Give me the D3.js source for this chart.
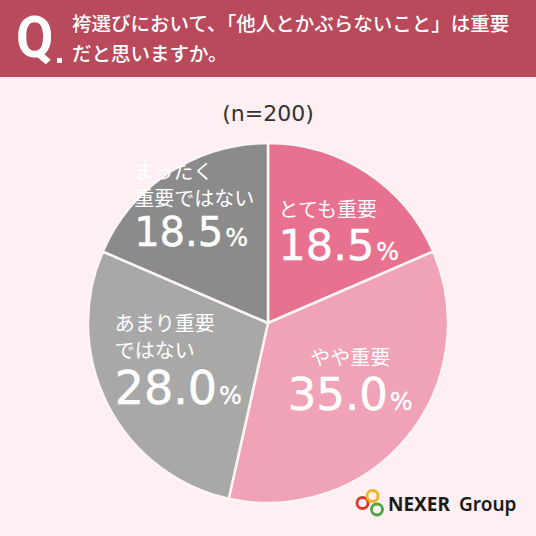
<!DOCTYPE html>
<html>
<head>
<meta charset="utf-8">
<script src="https://cdn.jsdelivr.net/npm/d3@7"></script>
<style>
  html, body { margin: 0; padding: 0; background: #fdeff2; }
  svg { display: block; }
</style>
</head>
<body>
<div id="chart"></div>
<script>
// data
const categories = ["とても重要", "やや重要", "あまり重要ではない", "まったく重要ではない"];
const labelLines = [["とても重要"], ["やや重要"], ["あまり重要", "ではない"], ["まったく", "重要ではない"]];
const values = [18.5, 35.0, 28.0, 18.5];
const colors = ["#e8718f", "#f0a2b6", "#a8a8a8", "#8b8b8b"];
const titleLines = ["袴選びにおいて、「他人とかぶらないこと」は重要", "だと思いますか。"];
const sampleNote = "(n=200)";

// label layout: distance from centre, nudge, alignment, number size
const labelRadius = [118, 104, 94, 140];
const labelShift = [[6, 8], [2, -8], [-6, -4], [3, 0]];
const labelAlign = ["start", "middle", "start", "start"];
const numberSize = [43, 45, 46, 40];

const W = 536, H = 536;
const cx = 268, cy = 323, R = 180;

const svg = d3.select("#chart").append("svg")
    .attr("width", W)
    .attr("height", H);

svg.append("rect")
    .attr("width", W).attr("height", H)
    .attr("fill", "#fdeff2");

// header band
svg.append("rect")
    .attr("width", W).attr("height", 77)
    .attr("fill", "#b84a5b");

svg.append("text")
    .attr("transform", "translate(16,57) scale(0.95,1)")
    .attr("fill", "#fff")
    .style("font-family", "Roboto, sans-serif")
    .style("font-weight", 700)
    .style("font-size", "57px")
    .text("Q");

svg.append("rect")
    .attr("x", 57).attr("y", 58)
    .attr("width", 5).attr("height", 5)
    .attr("fill", "#fff");

svg.selectAll(".title")
    .data(titleLines)
    .enter()
    .append("text")
    .attr("class", "title")
    .attr("x", 72)
    .attr("y", (d, i) => 31 + i * 30)
    .attr("fill", "#fff")
    .style("font-family", "'Noto Sans CJK JP', sans-serif")
    .style("font-weight", 500)
    .style("font-size", "19.5px")
    .text(d => d);

svg.append("text")
    .attr("x", cx).attr("y", 121)
    .attr("text-anchor", "middle")
    .attr("fill", "#333")
    .style("font-family", "'DejaVu Sans', sans-serif")
    .style("font-size", "22px")
    .text(sampleNote);

// pie
const pie = d3.pie().sort(null).value(d => d);
const arcs = pie(values);
const arc = d3.arc().innerRadius(0).outerRadius(R);

const g = svg.append("g").attr("transform", `translate(${cx},${cy})`);

g.selectAll("path")
    .data(arcs)
    .enter()
    .append("path")
    .attr("d", arc)
    .attr("fill", (d, i) => colors[i])
    .attr("stroke", "#fdf4f6")
    .attr("stroke-width", 2.5);

// labels: one text per slice, lines as tspans
arcs.forEach((a, i) => {
    const mid = (a.startAngle + a.endAngle) / 2;
    const tx = Math.sin(mid) * labelRadius[i] + labelShift[i][0];
    const ty = -Math.cos(mid) * labelRadius[i] + labelShift[i][1];

    const lines = labelLines[i];
    const t = g.append("text")
        .attr("text-anchor", labelAlign[i])
        .attr("fill", "#fff");

    lines.forEach((line, j) => {
        t.append("tspan")
            .attr("x", 0)
            .attr("y", j * 27)
            .style("font-family", "'Noto Sans CJK JP', sans-serif")
            .style("font-size", "20px")
            .text(line);
    });

    const numY = (lines.length - 1) * 27 + numberSize[i] * 0.95 + 2;
    t.append("tspan")
        .attr("x", 0)
        .attr("y", numY)
        .attr("stroke", "#fff")
        .attr("stroke-width", 0.5)
        .style("font-family", "'DejaVu Sans', sans-serif")
        .style("font-size", numberSize[i] + "px")
        .text(values[i].toFixed(1));
    t.append("tspan")
        .attr("dx", 2)
        .attr("stroke", "#fff")
        .attr("stroke-width", 0.4)
        .style("font-family", "'DejaVu Sans', sans-serif")
        .style("font-size", "24px")
        .text("%");

    const bb = t.node().getBBox();
    const ox = tx - (bb.x + bb.width / 2);
    const oy = ty - (bb.y + bb.height / 2);
    t.attr("transform", `translate(${ox},${oy})`);
});

// logo
const logo = svg.append("g");
const rings = [
    {x: 362.5, y: 503, c: "#d8392f"},
    {x: 372.5, y: 496, c: "#f0b323"},
    {x: 377, y: 509.5, c: "#49a842"}
];
logo.selectAll("circle")
    .data(rings)
    .enter()
    .append("circle")
    .attr("cx", d => d.x).attr("cy", d => d.y)
    .attr("r", 5.5)
    .attr("fill", "none")
    .attr("stroke", d => d.c)
    .attr("stroke-width", 2.8);

logo.append("text")
    .attr("x", 388).attr("y", 511)
    .attr("fill", "#1a1a1a")
    .style("font-family", "'Noto Sans', sans-serif")
    .style("font-weight", 700)
    .style("font-size", "19px")
    .text("NEXER");

logo.append("text")
    .attr("x", 459).attr("y", 511)
    .attr("fill", "#1a1a1a")
    .style("font-family", "'Noto Sans', sans-serif")
    .style("font-weight", 600)
    .style("font-size", "19px")
    .text("Group");
</script>
</body>
</html>
